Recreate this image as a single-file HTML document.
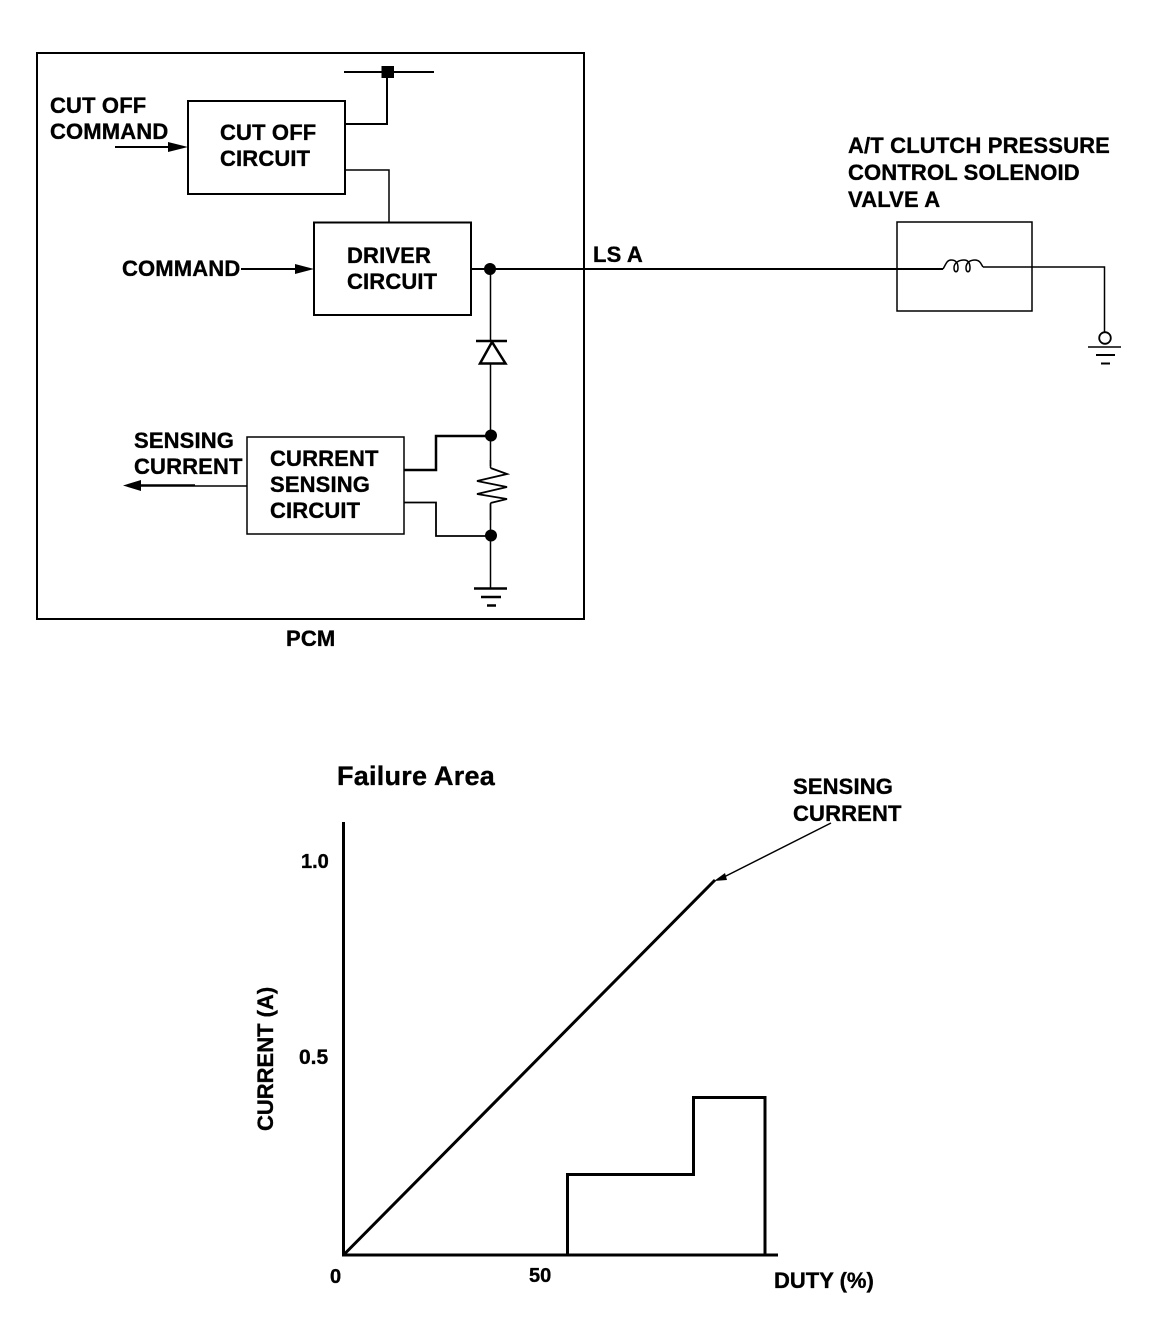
<!DOCTYPE html>
<html>
<head>
<meta charset="utf-8">
<style>
html,body{margin:0;padding:0;background:#fff}
svg{display:block}
text{font-family:"Liberation Sans",Arial,sans-serif;font-weight:bold;font-size:22px;fill:#000;stroke:#000;stroke-width:.35px;letter-spacing:.15px}
.l{fill:none;stroke:#000}
</style>
</head>
<body>
<svg width="1152" height="1326" viewBox="0 0 1152 1326" xmlns="http://www.w3.org/2000/svg">
<rect width="1152" height="1326" fill="#fff"/>
<!-- boxes -->
<rect class="l" x="37" y="53" width="547" height="566" stroke-width="2"/>
<rect class="l" x="188" y="101" width="157" height="93" stroke-width="2"/>
<rect class="l" x="314" y="222.5" width="157" height="92.5" stroke-width="2"/>
<rect class="l" x="247" y="437" width="157" height="97" stroke-width="1.5"/>
<rect class="l" x="897" y="222" width="135" height="89" stroke-width="1.5"/>
<!-- top bus -->
<path class="l" d="M344 72H434" stroke-width="2"/>
<rect x="381.500" y="66" width="12.500" height="12" fill="#000"/>
<path class="l" d="M387 72V124H345" stroke-width="2"/>
<path class="l" d="M345 170H389V222" stroke-width="1.500"/>
<!-- input arrows -->
<path class="l" d="M115 147H170" stroke-width="2"/>
<path d="M168 142L188 147L168 152Z" fill="#000"/>
<path class="l" d="M241 269H298" stroke-width="2"/>
<path d="M295 264L314 269L295 274Z" fill="#000"/>
<!-- main line -->
<path class="l" d="M471 269H943" stroke-width="2"/>
<circle cx="490" cy="269" r="6" fill="#000"/>
<path class="l" d="M490.500 269V341M490.500 364V588" stroke-width="1.500"/>
<!-- diode -->
<path class="l" d="M476 341H507" stroke-width="2.500"/>
<path class="l" d="M492 342L480 363.500H505.500Z" stroke-width="2.500"/>
<!-- sensing -->
<circle cx="491" cy="435.500" r="6" fill="#000"/>
<circle cx="491" cy="535.500" r="6" fill="#000"/>
<path class="l" d="M404 470H436V436H491" stroke-width="2.500"/>
<path class="l" d="M404 502.500H436V536H491" stroke-width="1.800"/>
<rect x="484" y="466" width="14" height="38" fill="#fff"/>
<path class="l" d="M490.500 468L507 474L477 481L507 487L477 494L507 499L490.500 503" stroke-width="1.800"/>
<path class="l" d="M490.500 460V468M490.500 503V520" stroke-width="1.500"/>
<!-- ground -->
<path class="l" d="M474 588.500H507" stroke-width="2.500"/>
<path class="l" d="M481 597H501" stroke-width="2.500"/>
<path class="l" d="M487 605.500H496" stroke-width="2.500"/>
<!-- output arrow -->
<path class="l" d="M247 486H195" stroke-width="1.500"/>
<path class="l" d="M195 485.500H138" stroke-width="2.500"/>
<path d="M123 485.500L141 480V491Z" fill="#000"/>
<!-- coil -->
<path class="l" d="M943 269C946 264 947 260 951 260C957 260 958 264 958 268C958 273 954 273 954 268C954 262 960 260 964 260C969 260 970 264 970 268C970 273 966 273 966 268C966 262 971 260 975 260C980 260 981 264 983 267" stroke-width="1.500"/>
<path class="l" d="M983 267H1104.500V332" stroke-width="1.500"/>
<circle class="l" cx="1105" cy="338" r="5.800" stroke-width="1.800"/>
<path class="l" d="M1088 347H1121" stroke-width="1.500"/>
<path class="l" d="M1096 355H1115" stroke-width="2"/>
<path class="l" d="M1101 363.500H1110" stroke-width="2"/>
<!-- chart -->
<path class="l" d="M343.500 822V1255H778" stroke-width="3"/>
<path class="l" d="M343.500 1255L715 880" stroke-width="3"/>
<path class="l" d="M831 823L722 878" stroke-width="1.500"/>
<path d="M714 881L725 873L727 880Z" fill="#000"/>
<path class="l" d="M567.500 1255V1174.500H693.500V1097.500H765V1255" stroke-width="3"/>
<!-- labels -->
<text x="50" y="113">CUT OFF</text>
<text x="50" y="139">COMMAND</text>
<text x="220" y="140">CUT OFF</text>
<text x="220" y="166">CIRCUIT</text>
<text x="122" y="276">COMMAND</text>
<text x="347" y="263">DRIVER</text>
<text x="347" y="289">CIRCUIT</text>
<text x="593" y="262">LS A</text>
<text x="134" y="448">SENSING</text>
<text x="134" y="474">CURRENT</text>
<text x="270" y="466">CURRENT</text>
<text x="270" y="492">SENSING</text>
<text x="270" y="518">CIRCUIT</text>
<text x="286" y="646">PCM</text>
<text x="848" y="153">A/T CLUTCH PRESSURE</text>
<text x="848" y="180">CONTROL SOLENOID</text>
<text x="848" y="207">VALVE A</text>
<text x="337" y="785" style="font-size:27px;letter-spacing:.25px">Failure Area</text>
<text x="793" y="794">SENSING</text>
<text x="793" y="821">CURRENT</text>
<text x="301" y="868" style="font-size:20px;letter-spacing:0">1.0</text>
<text x="299" y="1064" style="font-size:21px;letter-spacing:0">0.5</text>
<text x="330" y="1283" style="font-size:20px;letter-spacing:0">0</text>
<text x="529" y="1282" style="font-size:20px;letter-spacing:0">50</text>
<text x="774" y="1288" style="letter-spacing:0">DUTY (%)</text>
<text transform="translate(273 1131) rotate(-90)" x="0" y="0" style="letter-spacing:0">CURRENT (A)</text>
</svg>
</body>
</html>
